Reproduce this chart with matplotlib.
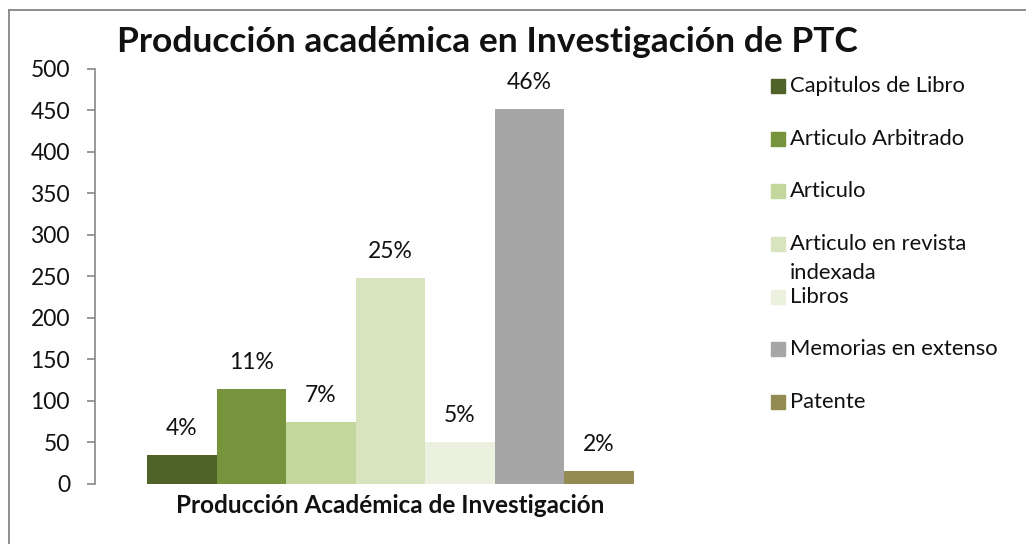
import matplotlib
matplotlib.use('Agg')
import matplotlib.pyplot as plt
from matplotlib.patches import Rectangle
from matplotlib.lines import Line2D

# datos
categorias = ['Capitulos de Libro', 'Articulo Arbitrado', 'Articulo',
              'Articulo en revista\nindexada', 'Libros', 'Memorias en extenso', 'Patente']
valores = [35, 114, 75, 248, 51, 452, 16]
porcentajes = ['4%', '11%', '7%', '25%', '5%', '46%', '2%']
colores = ['#4F6228', '#77933C', '#C3D69B', '#D7E4BD', '#EBF1DE', '#A6A6A6', '#948A54']
yticks = [0, 50, 100, 150, 200, 250, 300, 350, 400, 450, 500]

plt.rcParams['font.family'] = ['Lato', 'DejaVu Sans']

fig = plt.figure(figsize=(10.26, 5.44), dpi=100)
ax = fig.add_axes([0.0926, 0.1103, 0.576, 0.7629])

x = list(range(len(valores)))
barras = ax.bar(x, valores, width=1.0, color=colores, edgecolor='none')

# etiquetas de porcentaje sobre cada barra
for b, p in zip(barras, porcentajes):
    ax.annotate(p, (b.get_x() + b.get_width() / 2, b.get_height()),
                xytext=(0, 19), textcoords='offset points',
                ha='center', va='center', fontsize=16.5, color='#111111')

ax.set_xlim(-1.248, 7.248)
ax.set_ylim(0, 500)
ax.set_yticks(yticks)
ax.set_xticks([])
ax.tick_params(axis='y', direction='out', length=6, width=1.2, color='#868686',
               labelsize=16.5, pad=12, labelcolor='#111111')
for s in ['top', 'right', 'bottom']:
    ax.spines[s].set_visible(False)
ax.spines['left'].set_color('#868686')
ax.spines['left'].set_linewidth(1.2)

ax.set_xlabel('Producción Académica de Investigación', fontsize=17.5, fontweight='bold',
              labelpad=7, color='#111111')
fig.text(0.475, 0.922, 'Producción académica en Investigación de PTC',
         ha='center', va='center', fontsize=25.5, fontweight='bold', color='#111111')

# leyenda dibujada a mano
y0 = 0.842
paso = 52.7 / 544
for i, (c, col) in enumerate(zip(categorias, colores)):
    yy = y0 - i * paso
    fig.patches.append(Rectangle((771 / 1026, yy - 7 / 544), 14 / 1026, 14 / 544,
                                 transform=fig.transFigure, color=col, figure=fig))
    if '\n' in c:
        l1, l2 = c.split('\n')
        fig.text(790 / 1026, yy, l1, ha='left', va='center', fontsize=15.8, color='#111111')
        fig.text(790 / 1026, yy - 29 / 544, l2, ha='left', va='center', fontsize=15.8, color='#111111')
    else:
        fig.text(790 / 1026, yy, c, ha='left', va='center', fontsize=15.8, color='#111111')

# marco del área del gráfico (solo se ven borde superior e izquierdo)
fig.add_artist(Line2D([9 / 1026, 1.0], [1 - 10 / 544, 1 - 10 / 544], transform=fig.transFigure,
                      color='#868686', lw=1.3))
fig.add_artist(Line2D([9 / 1026, 9 / 1026], [0, 1 - 10 / 544], transform=fig.transFigure,
                      color='#868686', lw=1.3))

fig.savefig('out.png', dpi=100, facecolor='white')
